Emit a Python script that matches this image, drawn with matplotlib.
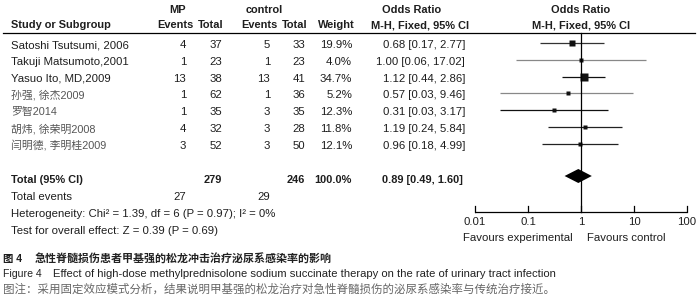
import matplotlib
matplotlib.use('Agg')
import matplotlib.pyplot as plt

# ---------------- data ----------------
studies = ["Satoshi Tsutsumi, 2006", "Takuji Matsumoto,2001", "Yasuo Ito, MD,2009",
           "孙强, 徐杰2009", "罗智2014", "胡炜, 徐荣明2008", "闫明德, 李明桂2009"]
mp_events = [4, 1, 13, 1, 1, 4, 3]
mp_total = [37, 23, 38, 62, 35, 32, 52]
ctrl_events = [5, 1, 13, 1, 3, 3, 3]
ctrl_total = [33, 23, 41, 36, 35, 28, 50]
weights = [19.9, 4.0, 34.7, 5.2, 12.3, 11.8, 12.1]
odds = [0.68, 1.00, 1.12, 0.57, 0.31, 1.19, 0.96]
ci_low = [0.17, 0.06, 0.44, 0.03, 0.03, 0.24, 0.18]
ci_high = [2.77, 17.02, 2.86, 9.46, 3.17, 5.84, 4.99]
total_mp = 279
total_ctrl = 246
total_weight = 100.0
total_or = 0.89
total_low = 0.49
total_high = 1.60
events_mp = 27
events_ctrl = 29
het_text = "Heterogeneity: Chi² = 1.39, df = 6 (P = 0.97); I² = 0%"
test_text = "Test for overall effect: Z = 0.39 (P = 0.69)"
axis_ticks = [0.01, 0.1, 1, 10, 100]
tick_labels = ["0.01", "0.1", "1", "10", "100"]
caption1_head = "图 4"
caption1 = "急性脊髓损伤患者甲基强的松龙冲击治疗泌尿系感染率的影响"
caption2_head = "Figure 4"
caption2 = "Effect of high-dose methylprednisolone sodium succinate therapy on the rate of urinary tract infection"
caption3 = "图注：采用固定效应模式分析，结果说明甲基强的松龙治疗对急性脊髓损伤的泌尿系感染率与传统治疗接近。"

# ---------------- style / layout ----------------
FAM = ['Liberation Sans', 'Noto Sans CJK SC', 'DejaVu Sans']
FS = 8.2
HFS = 7.9
TXT = '#1e1e1e'
line_colors = ['#333333', '#888888', '#111111', '#888888', '#111111', '#222222', '#222222']
cjk_name = [False, False, False, True, True, True, True]

fig = plt.figure(figsize=(7, 2.99), dpi=100)
bg = fig.add_axes([0, 0, 1, 1])
bg.set_xlim(0, 700)
bg.set_ylim(299, 0)
bg.axis('off')

fx = fig.add_axes([475 / 700, 0, 212 / 700, 1])
fx.set_xscale('log')
fx.set_xlim(0.01, 100)
fx.set_ylim(299, 0)
fx.axis('off')
fx.patch.set_alpha(0)

renderer = fig.canvas.get_renderer()


def txt(ax, x, y, s, ha='left', bold=False, color=TXT, fs=FS, **kw):
    return ax.text(x, y, s, ha=ha, va='center', fontsize=fs, family=FAM,
                   fontweight='bold' if bold else 'normal', color=color, **kw)


def fit_text(ax, x, y, s, width, ha='left', bold=False, color=TXT, fs0=8):
    t = txt(ax, x, y, s, ha=ha, bold=bold, color=color, fs=fs0)
    w = t.get_window_extent(renderer).width
    t.set_fontsize(fs0 * width / w)
    return t


# headers
txt(bg, 178, 10, "MP", ha='center', bold=True, fs=HFS)
txt(bg, 264, 10, "control", ha='center', bold=True, fs=HFS)
txt(bg, 412, 10, "Odds Ratio", ha='center', bold=True, fs=HFS)
txt(fx, 1, 10, "Odds Ratio", ha='center', bold=True, fs=HFS)
txt(bg, 11, 25, "Study or Subgroup", bold=True, fs=HFS)
txt(bg, 194, 25, "Events", ha='right', bold=True, fs=HFS)
txt(bg, 224, 25, "Total", ha='right', bold=True, fs=HFS)
txt(bg, 277, 25, "Events", ha='right', bold=True, fs=HFS)
txt(bg, 307, 25, "Total", ha='right', bold=True, fs=HFS)
txt(bg, 355, 25, "Weight", ha='right', bold=True, fs=HFS)
txt(bg, 420, 25, "M-H, Fixed, 95% CI", ha='center', bold=True, fs=HFS)
txt(fx, 1, 25, "M-H, Fixed, 95% CI", ha='center', bold=True, fs=HFS)
bg.plot([3, 695], [32.5, 32.5], color='black', lw=0.9)

# study rows
for i, name in enumerate(studies):
    y = 45 + 16.8 * i
    if cjk_name[i]:
        txt(bg, 11, y, name, color='#555555', fs=7.8)
    else:
        txt(bg, 11, y, name)
    txt(bg, 186, y, str(mp_events[i]), ha='right')
    txt(bg, 222, y, str(mp_total[i]), ha='right')
    txt(bg, 270, y, str(ctrl_events[i]), ha='right')
    txt(bg, 305, y, str(ctrl_total[i]), ha='right')
    txt(bg, 352, y, f"{weights[i]:.1f}%", ha='right')
    txt(bg, 465, y, f"{odds[i]:.2f} [{ci_low[i]:.2f}, {ci_high[i]:.2f}]", ha='right')
    ym = y - 2
    fx.plot([ci_low[i], ci_high[i]], [ym, ym], color=line_colors[i], lw=0.9,
            solid_capstyle='butt', clip_on=False)
    side = max(3.5, 1.35 * weights[i] ** 0.5)
    fx.plot([odds[i]], [ym], marker='s', ms=side * 0.72, color='#111111',
            mec='none', clip_on=False)

# totals
yt = 180
txt(bg, 11, yt, "Total (95% CI)", bold=True, fs=HFS)
txt(bg, 222, yt, str(total_mp), ha='right', bold=True, fs=HFS)
txt(bg, 305, yt, str(total_ctrl), ha='right', bold=True, fs=HFS)
txt(bg, 352, yt, f"{total_weight:.1f}%", ha='right', bold=True, fs=HFS)
txt(bg, 463, yt, f"{total_or:.2f} [{total_low:.2f}, {total_high:.2f}]", ha='right', bold=True, fs=HFS)
yd = 176
fx.fill([total_low, total_or, total_high, total_or], [yd, yd - 7, yd, yd + 7],
        color='black', lw=0)

txt(bg, 11, 197, "Total events")
txt(bg, 186, 197, str(events_mp), ha='right')
txt(bg, 270, 197, str(events_ctrl), ha='right')
txt(bg, 11, 214, het_text)
txt(bg, 11, 231, test_text)

# forest axis
fx.plot([1, 1], [32.5, 212], color='black', lw=0.9)
fx.plot([axis_ticks[0], axis_ticks[-1]], [212, 212], color='black', lw=0.9)
for t, lab in zip(axis_ticks, tick_labels):
    fx.plot([t, t], [212, 206], color='black', lw=0.9, clip_on=False)
    txt(fx, t, 222, lab, ha='center')
txt(bg, 573, 238, "Favours experimental", ha='right')
txt(bg, 587, 238, "Favours control", ha='left')

# captions
txt(bg, 3, 259, caption1_head, bold=True, fs=7.5)
fit_text(bg, 35, 259, caption1, 298, bold=True, color='#222222')
txt(bg, 3, 274, caption2_head, color='#222222', fs=7.6)
fit_text(bg, 53, 274, caption2, 505, color='#222222')
fit_text(bg, 3, 289, caption3, 552, color='#666666')

fig.savefig('out.png', dpi=100)
